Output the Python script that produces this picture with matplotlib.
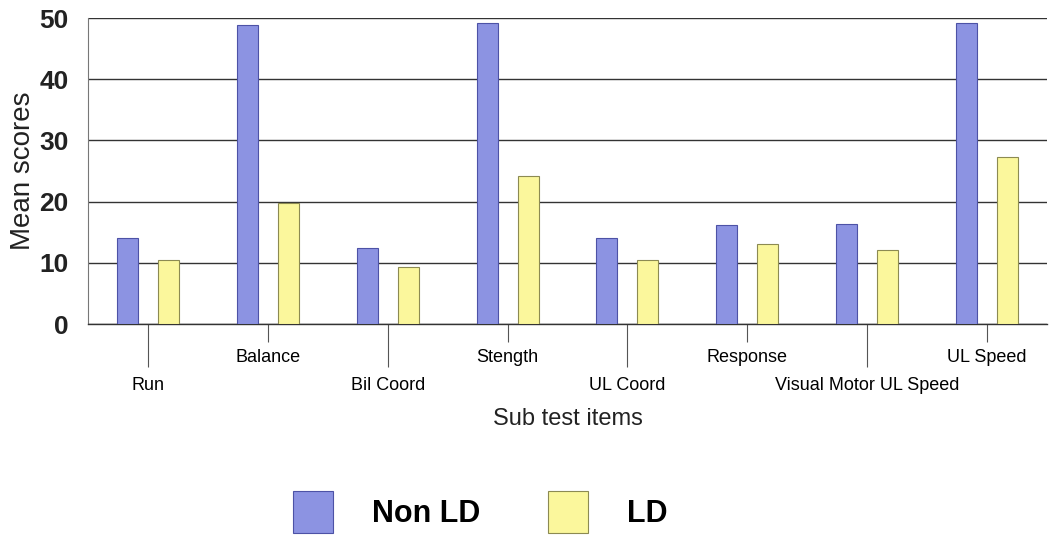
import matplotlib
matplotlib.use("Agg")
import matplotlib.pyplot as plt
import numpy as np
from matplotlib.patches import Patch

categories = ["Run", "Balance", "Bil Coord", "Stength", "UL Coord", "Response",
              "Visual Motor UL Speed", "UL Speed"]
non_ld = [14.1, 48.9, 12.4, 49.2, 14.1, 16.2, 16.3, 49.2]
ld = [10.5, 19.8, 9.3, 24.2, 10.5, 13.1, 12.1, 27.3]
series_names = ["Non LD", "LD"]
yticks = [0, 10, 20, 30, 40, 50]

plt.rcParams['font.family'] = ['Liberation Sans', 'DejaVu Sans']

blue = "#8c93e2"
blue_edge = "#4d52a6"
yellow = "#fbf79c"
yellow_edge = "#8c8a52"

fig = plt.figure(figsize=(10.49, 5.36), dpi=100)
ax = fig.add_axes([0.0839, 0.3955, 0.9141, 0.5709])

x = np.arange(len(categories))
w = 0.175
off = 0.171
ax.bar(x - off, non_ld, width=w, color=blue, edgecolor=blue_edge, linewidth=0.8, zorder=3)
ax.bar(x + off, ld, width=w, color=yellow, edgecolor=yellow_edge, linewidth=0.8, zorder=3)

ax.set_xlim(-0.5, 7.5)
ax.set_ylim(0, 50)
ax.set_yticks(yticks)
ax.set_yticklabels([str(v) for v in yticks], fontsize=19, fontweight='bold', color="#222222")
ax.tick_params(axis='y', length=0, pad=14)
ax.grid(axis='y', color="#333333", linewidth=1.0, zorder=0)

for s in ['top', 'right']:
    ax.spines[s].set_visible(False)
ax.spines['left'].set_color("#777777")
ax.spines['bottom'].set_color("#333333")
ax.spines['bottom'].set_linewidth(1.0)

even = x[0::2]
odd = x[1::2]
ax.set_xticks(even, [categories[i] for i in even], fontsize=13)
ax.set_xticks(odd, [categories[i] for i in odd], minor=True, fontsize=13)
ax.tick_params(axis='x', which='major', length=31, width=0.8, color="#555555", pad=7)
ax.tick_params(axis='x', which='minor', length=13, width=0.8, color="#555555", pad=5)

ax.set_ylabel("Mean scores", fontsize=20, labelpad=2, color="#222222")
ax.set_xlabel("Sub test items", fontsize=17, labelpad=10, color="#222222")

handles = [Patch(facecolor=blue, edgecolor=blue_edge, linewidth=0.8),
           Patch(facecolor=yellow, edgecolor=yellow_edge, linewidth=0.8)]
fig.legend(handles, series_names, loc='lower center', bbox_to_anchor=(0.458, -0.046),
           ncol=2, frameon=False, prop={'size': 22, 'weight': 'bold'},
           handlelength=1.3, handleheight=1.75, handletextpad=1.3, columnspacing=2.2)

fig.savefig("out.png", dpi=100)
